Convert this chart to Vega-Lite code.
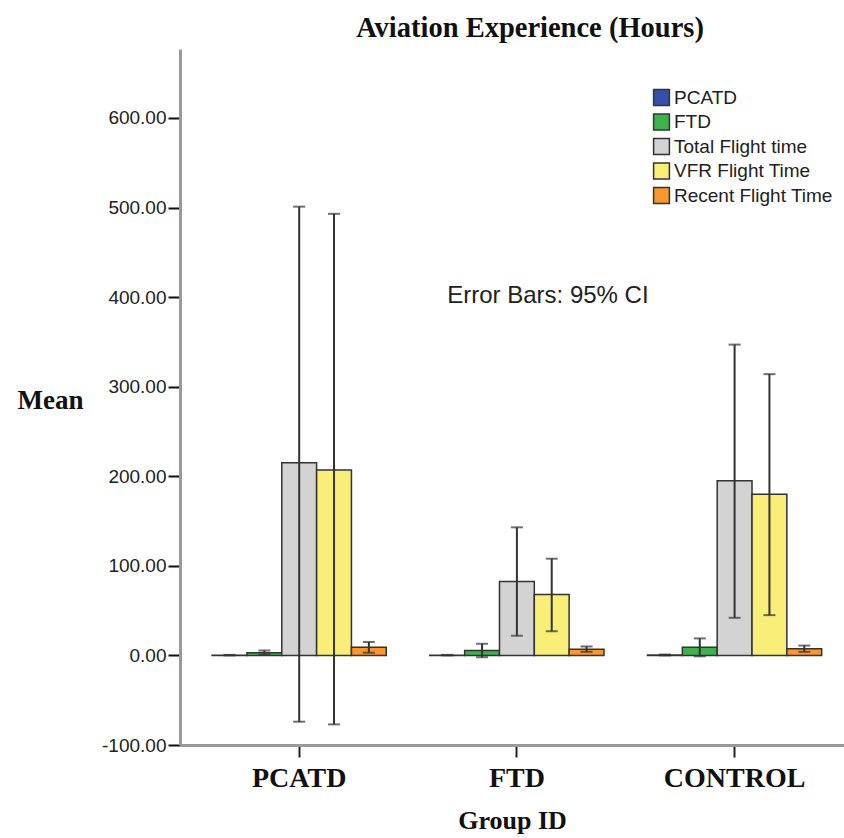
{
  "$schema": "https://vega.github.io/schema/vega-lite/v6.json",
  "autosize": {"type": "none"},
  "width": 664,
  "height": 696,
  "padding": {"left": 180, "top": 49, "right": 0, "bottom": 93},
  "background": "white",
  "title": {
    "text": "Aviation Experience (Hours)",
    "font": "Liberation Serif",
    "fontSize": 28.5,
    "fontWeight": "bold",
    "color": "#111",
    "anchor": "middle",
    "dx": 18,
    "offset": 7
  },
  "config": {
    "view": {"stroke": null},
    "axis": {"grid": false}
  },
  "data": {
    "values": [
      {"group": "PCATD", "series": "PCATD", "mean": 0.3, "lo": 0, "hi": 0.6},
      {"group": "PCATD", "series": "FTD", "mean": 3, "lo": 1, "hi": 5.5},
      {"group": "PCATD", "series": "Total Flight time", "mean": 215, "lo": -74, "hi": 501},
      {"group": "PCATD", "series": "VFR Flight Time", "mean": 207, "lo": -77, "hi": 493},
      {"group": "PCATD", "series": "Recent Flight Time", "mean": 9, "lo": 3, "hi": 15},
      {"group": "FTD", "series": "PCATD", "mean": 0.3, "lo": 0, "hi": 0.6},
      {"group": "FTD", "series": "FTD", "mean": 5.5, "lo": -2, "hi": 13},
      {"group": "FTD", "series": "Total Flight time", "mean": 82.5, "lo": 22, "hi": 143},
      {"group": "FTD", "series": "VFR Flight Time", "mean": 68, "lo": 27, "hi": 108},
      {"group": "FTD", "series": "Recent Flight Time", "mean": 7, "lo": 4, "hi": 10},
      {"group": "CONTROL", "series": "PCATD", "mean": 0.5, "lo": 0, "hi": 1},
      {"group": "CONTROL", "series": "FTD", "mean": 9, "lo": -1, "hi": 19},
      {"group": "CONTROL", "series": "Total Flight time", "mean": 195, "lo": 42, "hi": 347},
      {"group": "CONTROL", "series": "VFR Flight Time", "mean": 180, "lo": 45, "hi": 314},
      {"group": "CONTROL", "series": "Recent Flight Time", "mean": 7.5, "lo": 4, "hi": 11}
    ]
  },
  "encoding": {
    "x": {
      "field": "group",
      "type": "nominal",
      "sort": ["PCATD", "FTD", "CONTROL"],
      "scale": {"domain": ["PCATD", "FTD", "CONTROL"], "paddingInner": 0.2, "paddingOuter": 0.125, "align": 0.59},
      "axis": {
        "title": "Group ID",
        "titleFont": "Liberation Serif",
        "titleFontSize": 26,
        "titleFontWeight": "bold",
        "titleColor": "#111",
        "titlePadding": 15,
        "labelFont": "Liberation Serif",
        "labelFontSize": 28,
        "labelFontWeight": "bold",
        "labelColor": "#111",
        "labelAngle": 0,
        "labelPadding": 7,
        "tickColor": "#222",
        "tickWidth": 2,
        "tickSize": 12,
        "domainColor": "#9a9a9a",
        "domainWidth": 3
      }
    },
    "xOffset": {
      "field": "series",
      "type": "nominal",
      "sort": ["PCATD", "FTD", "Total Flight time", "VFR Flight Time", "Recent Flight Time"],
      "scale": {"paddingInner": 0, "paddingOuter": 0}
    }
  },
  "layer": [
    {
      "mark": {"type": "bar", "stroke": "#333", "strokeWidth": 1.5},
      "encoding": {
        "y": {
          "field": "mean",
          "type": "quantitative",
          "scale": {"domain": [-100, 677], "nice": false, "zero": false},
          "axis": {
            "title": "Mean",
            "titleFont": "Liberation Serif",
            "titleFontSize": 27,
            "titleFontWeight": "bold",
            "titleColor": "#111",
            "titleAngle": 0,
            "titleX": -130,
            "titleY": 351,
            "titleAlign": "center",
            "titleBaseline": "middle",
            "values": [-100, 0, 100, 200, 300, 400, 500, 600],
            "format": ".2f",
            "labelExpr": "replace(datum.label, '−', '-')",
            "labelFont": "Liberation Sans",
            "labelFontSize": 19,
            "labelColor": "#222",
            "labelPadding": 2,
            "tickColor": "#111",
            "tickWidth": 2,
            "tickSize": 12,
            "domainColor": "#9a9a9a",
            "domainWidth": 3
          }
        },
        "color": {
          "field": "series",
          "type": "nominal",
          "scale": {
            "domain": ["PCATD", "FTD", "Total Flight time", "VFR Flight Time", "Recent Flight Time"],
            "range": ["#3450ad", "#3db34e", "#d3d3d3", "#f8ee78", "#f7972c"]
          },
          "legend": {
            "title": null,
            "orient": "none",
            "legendX": 472,
            "legendY": 39,
            "symbolType": "square",
            "symbolSize": 250,
            "symbolStrokeColor": "#333",
            "symbolStrokeWidth": 1.5,
            "labelFont": "Liberation Sans",
            "labelFontSize": 19,
            "labelColor": "#222",
            "labelOffset": 3,
            "rowPadding": 1.5
          }
        }
      }
    },
    {
      "mark": {"type": "rule", "color": "#333", "strokeWidth": 2},
      "encoding": {
        "y": {"field": "lo", "type": "quantitative"},
        "y2": {"field": "hi"}
      }
    },
    {
      "mark": {"type": "tick", "color": "#333", "thickness": 2, "size": 12},
      "encoding": {"y": {"field": "hi", "type": "quantitative"}}
    },
    {
      "mark": {"type": "tick", "color": "#333", "thickness": 2, "size": 12},
      "encoding": {"y": {"field": "lo", "type": "quantitative"}}
    },
    {
      "data": {"values": [{"label": "Error Bars: 95% CI", "group": "FTD", "v": 401}]},
      "mark": {"type": "text", "font": "Liberation Sans", "fontSize": 24, "color": "#222", "dx": 31},
      "encoding": {
        "xOffset": null,
        "y": {"field": "v", "type": "quantitative"},
        "text": {"field": "label"}
      }
    }
  ]
}
